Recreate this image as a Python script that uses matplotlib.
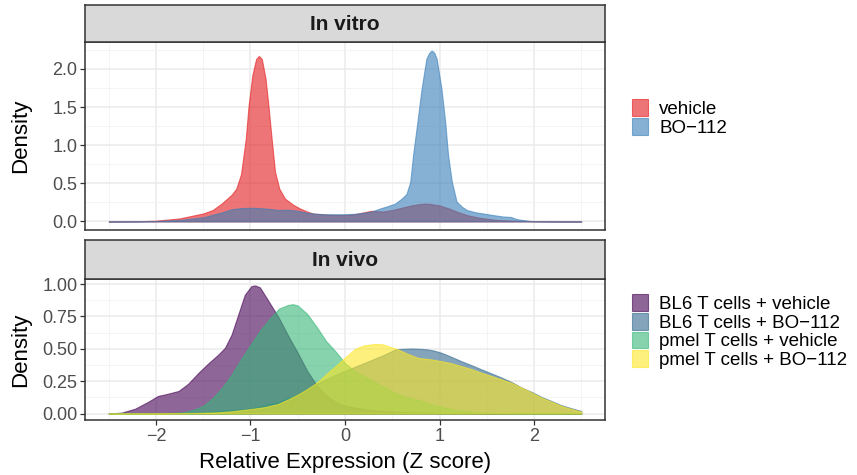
import matplotlib
matplotlib.use("Agg")
import matplotlib.pyplot as plt
from matplotlib.patches import Patch
from matplotlib.ticker import MultipleLocator

plt.rcParams['font.family'] = ['Liberation Sans', 'DejaVu Sans']

# ---- In vitro densities ----
vehicle_x = [-2.5, -2.2, -2.0, -1.75, -1.5, -1.4, -1.3, -1.2, -1.15, -1.1, -1.05, -1.02,
             -0.98, -0.94, -0.91, -0.88, -0.84, -0.81, -0.776, -0.74, -0.695, -0.635,
             -0.55, -0.476, -0.4, -0.34, -0.2, -0.1, 0.0, 0.1, 0.2, 0.28, 0.4, 0.5, 0.6,
             0.7, 0.8, 0.85, 0.9, 1.0, 1.1, 1.2, 1.3, 1.4, 1.5, 1.6, 1.8, 2.0, 2.2, 2.5]
vehicle_y = [0.0, 0.003, 0.01, 0.04, 0.105, 0.15, 0.24, 0.35, 0.43, 0.62, 1.08, 1.52,
             1.92, 2.13, 2.17, 2.13, 1.87, 1.52, 1.085, 0.65, 0.43, 0.30,
             0.22, 0.17, 0.13, 0.105, 0.09, 0.085, 0.085, 0.095, 0.12, 0.14, 0.13, 0.15, 0.18,
             0.21, 0.23, 0.235, 0.23, 0.21, 0.17, 0.12, 0.08, 0.055, 0.035, 0.02, 0.01, 0.005, 0.002, 0.0]

bo_x = [-2.5, -2.2, -2.0, -1.75, -1.5, -1.3, -1.2, -1.1, -1.0, -0.9, -0.8, -0.7, -0.6, -0.5,
        -0.4, -0.3, -0.2, -0.1, 0.0, 0.1, 0.2, 0.28, 0.37, 0.45, 0.53, 0.6, 0.65, 0.69, 0.72,
        0.765, 0.81, 0.86, 0.89, 0.917, 0.945, 0.97, 1.02, 1.06, 1.09, 1.13, 1.18, 1.24, 1.29,
        1.38, 1.46, 1.56, 1.67, 1.75, 1.82, 1.96, 2.2, 2.5]
bo_y = [0.0, 0.002, 0.005, 0.02, 0.055, 0.12, 0.16, 0.175, 0.18, 0.175, 0.165, 0.15, 0.155, 0.14,
        0.115, 0.1, 0.095, 0.095, 0.095, 0.1, 0.115, 0.13, 0.17, 0.2, 0.235, 0.3, 0.36, 0.52, 0.87,
        1.3, 1.74, 2.13, 2.21, 2.24, 2.21, 2.13, 1.74, 1.3, 0.87, 0.52, 0.26, 0.19, 0.15,
        0.12, 0.105, 0.085, 0.065, 0.06, 0.03, 0.005, 0.001, 0.0]

# ---- In vivo densities ----
bl6_veh_x = [-2.5, -2.36, -2.22, -2.08, -1.98, -1.87, -1.76, -1.66, -1.55, -1.45, -1.34, -1.27,
             -1.2, -1.13, -1.06, -0.99, -0.95, -0.9, -0.81, -0.7, -0.6, -0.5, -0.4, -0.3, -0.2,
             -0.1, 0.0, 0.2, 0.4, 0.6, 1.0, 1.5, 2.5]
bl6_veh_y = [0.0, 0.008, 0.038, 0.092, 0.136, 0.154, 0.175, 0.23, 0.315, 0.385, 0.456, 0.508,
             0.61, 0.764, 0.918, 0.985, 0.99, 0.975, 0.87, 0.74, 0.6, 0.47, 0.33, 0.22, 0.14,
             0.09, 0.06, 0.035, 0.02, 0.012, 0.005, 0.002, 0.0]

bl6_bo_x = [-2.5, -2.0, -1.5, -1.0, -0.7, -0.5, -0.3, -0.1, 0.1, 0.25, 0.4, 0.53, 0.6, 0.705,
            0.8, 0.882, 0.95, 1.02, 1.12, 1.23, 1.34, 1.446, 1.55, 1.66, 1.77, 1.87, 1.98, 2.08,
            2.19, 2.29, 2.4, 2.5]
bl6_bo_y = [0.0, 0.003, 0.01, 0.04, 0.09, 0.15, 0.23, 0.3, 0.36, 0.405, 0.45, 0.495, 0.5, 0.503,
            0.5, 0.495, 0.485, 0.47, 0.44, 0.405, 0.373, 0.341, 0.31, 0.277, 0.24, 0.2, 0.165, 0.128,
            0.095, 0.064, 0.04, 0.02]

pmel_veh_x = [-2.5, -2.0, -1.8, -1.7, -1.6, -1.5, -1.4, -1.3, -1.2, -1.1, -1.0, -0.9, -0.8, -0.7,
              -0.6, -0.55, -0.5, -0.4, -0.3, -0.2, -0.1, 0.0, 0.1, 0.2, 0.3, 0.4, 0.5, 0.6, 0.7,
              0.8, 0.9, 1.0, 1.1, 1.2, 1.4, 1.6, 2.0, 2.5]
pmel_veh_y = [0.0, 0.002, 0.005, 0.01, 0.03, 0.06, 0.12, 0.2, 0.3, 0.42, 0.53, 0.64, 0.73, 0.81,
              0.84, 0.845, 0.835, 0.77, 0.67, 0.56, 0.48, 0.39, 0.33, 0.29, 0.25, 0.21, 0.17, 0.14, 0.12,
              0.1, 0.075, 0.055, 0.04, 0.025, 0.01, 0.004, 0.001, 0.0]

pmel_bo_x = [-2.5, -2.0, -1.6, -1.34, -1.2, -0.99, -0.85, -0.71, -0.6, -0.49, -0.4, -0.32, -0.25,
             -0.18, -0.11, -0.035, 0.035, 0.106, 0.2, 0.317, 0.4, 0.458, 0.564, 0.65, 0.776, 0.9,
             1.02, 1.12, 1.23, 1.34, 1.446, 1.55, 1.66, 1.77, 1.87, 1.98, 2.08, 2.19, 2.29, 2.4, 2.5]
pmel_bo_y = [0.0, 0.002, 0.005, 0.01, 0.018, 0.036, 0.05, 0.074, 0.11, 0.151, 0.19, 0.228, 0.27,
             0.318, 0.36, 0.41, 0.455, 0.5, 0.527, 0.538, 0.535, 0.52, 0.495, 0.465, 0.43, 0.42,
             0.405, 0.39, 0.367, 0.343, 0.315, 0.29, 0.264, 0.235, 0.2, 0.16, 0.123, 0.09, 0.059, 0.035, 0.015]

vitro_labels = ['vehicle', 'BO\u2212112']
vitro_colors = ['#E41A1C', '#377EB8']
vivo_labels = ['BL6 T cells + vehicle', 'BL6 T cells + BO\u2212112',
               'pmel T cells + vehicle', 'pmel T cells + BO\u2212112']
vivo_colors = ['#440154', '#31688E', '#35B779', '#FDE725']
ALPHA = 0.6

W, H = 857, 475
fig = plt.figure(figsize=(W / 100, H / 100), dpi=100)

def box(l, t, r, b):
    return [l / W, 1 - b / H, (r - l) / W, (b - t) / H]

ax1 = fig.add_axes(box(85, 42, 605, 230))
ax2 = fig.add_axes(box(85, 279, 605, 420))

for ax, series, colors in [
        (ax1, [(vehicle_x, vehicle_y), (bo_x, bo_y)], vitro_colors),
        (ax2, [(bl6_veh_x, bl6_veh_y), (bl6_bo_x, bl6_bo_y),
               (pmel_veh_x, pmel_veh_y), (pmel_bo_x, pmel_bo_y)], vivo_colors)]:
    for (xs, ys), c in zip(series, colors):
        ax.fill_between(xs, 0, ys, facecolor=c, edgecolor=c, alpha=ALPHA, lw=0.8, zorder=3)

for ax in (ax1, ax2):
    ax.set_xlim(-2.75, 2.75)
    ax.xaxis.set_major_locator(MultipleLocator(1))
    ax.xaxis.set_minor_locator(MultipleLocator(0.5))
    ax.grid(True, which='major', color='#EBEBEB', lw=1.1, zorder=0)
    ax.grid(True, which='minor', color='#F2F2F2', lw=0.6, zorder=0)
    ax.set_axisbelow(True)
    for s in ax.spines.values():
        s.set_color('#333333')
        s.set_linewidth(1.1)
    ax.tick_params(which='major', length=3.5, width=0.9, color='#333333',
                   labelsize=13, labelcolor='#4D4D4D', pad=2)
    ax.tick_params(which='minor', length=0)
    ax.set_ylabel('Density', fontsize=16, color='black')
    ax.yaxis.set_label_coords(-0.104, 0.5)

ax1.set_ylim(-0.112, 2.352)
ax1.yaxis.set_major_locator(MultipleLocator(0.5))
ax1.yaxis.set_minor_locator(MultipleLocator(0.25))
ax1.yaxis.set_major_formatter(matplotlib.ticker.FormatStrFormatter('%.1f'))
ax1.tick_params(axis='x', which='both', length=0, labelbottom=False)

ax2.set_ylim(-0.0495, 1.0395)
ax2.yaxis.set_major_locator(MultipleLocator(0.25))
ax2.yaxis.set_minor_locator(MultipleLocator(0.125))
ax2.yaxis.set_major_formatter(matplotlib.ticker.FormatStrFormatter('%.2f'))
ax2.xaxis.set_major_formatter(matplotlib.ticker.FuncFormatter(
    lambda v, p: ('\u2212%d' % abs(v)) if v < 0 else '%d' % v))
ax2.set_xlabel('Relative Expression (Z score)', fontsize=16, color='black', labelpad=5)

# facet strips
for (t, b), title in [((5, 42), 'In vitro'), ((240, 279), 'In vivo')]:
    sa = fig.add_axes(box(85, t, 605, b))
    sa.set_facecolor('#D9D9D9')
    sa.set_xticks([])
    sa.set_yticks([])
    for s in sa.spines.values():
        s.set_color('#333333')
        s.set_linewidth(1.1)
    sa.text(0.5, 0.48, title, ha='center', va='center', fontsize=15,
            fontweight='bold', color='#1A1A1A', transform=sa.transAxes)

# legends
def add_legend(ax, labels, colors, top):
    handles = [Patch(facecolor=c, edgecolor=c, alpha=ALPHA, lw=0.8) for c in colors]
    ax.legend(handles, labels, loc='upper left', bbox_to_anchor=(632 / W, 1 - top / H),
              bbox_transform=fig.transFigure, frameon=False, fontsize=13.5,
              handlelength=0.85, handleheight=1.0, handletextpad=0.6,
              labelspacing=0.0, borderpad=0, borderaxespad=0)

add_legend(ax1, vitro_labels, vitro_colors, 99)
add_legend(ax2, vivo_labels, vivo_colors, 294)

fig.savefig('out.png', dpi=100)
